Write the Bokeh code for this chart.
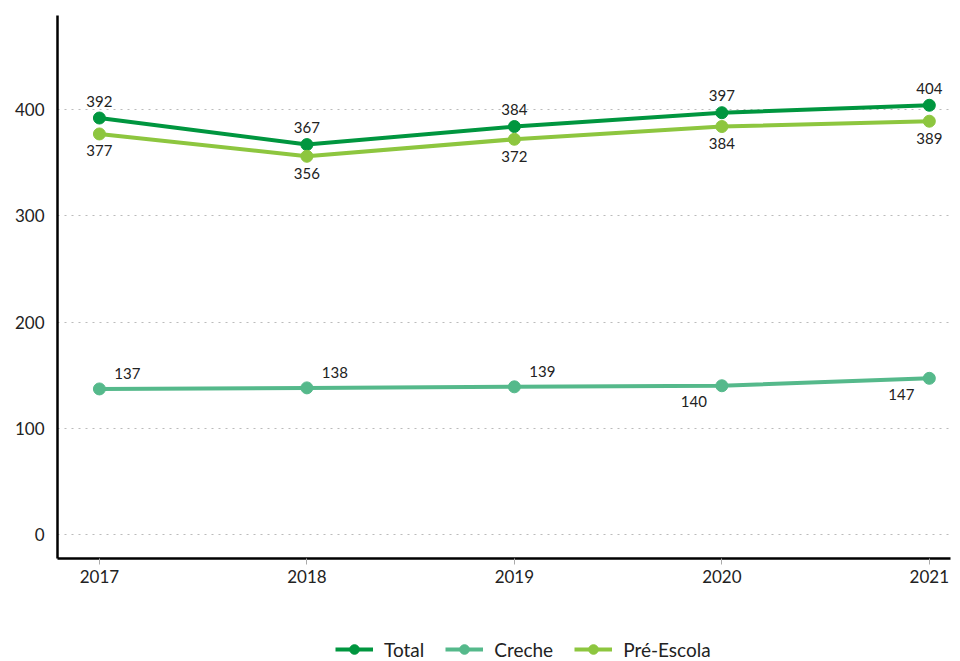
from bokeh.plotting import figure
from bokeh.layouts import column
from bokeh.models import ColumnDataSource, Legend, LegendItem, Range1d, FixedTicker, LabelSet
from bokeh.core.properties import value
from bokeh.embed import file_html
from bokeh.resources import INLINE

years = [2017, 2018, 2019, 2020, 2021]
total = [392, 367, 384, 397, 404]
creche = [137, 138, 139, 140, 147]
pre_escola = [377, 356, 372, 384, 389]
series_names = ["Total", "Creche", "Pré-Escola"]

c_total = "#00963F"
c_creche = "#55B98B"
c_pre = "#8DC63F"
FONT = "Lato"

p = figure(width=952, height=590, output_backend="svg", toolbar_location=None,
           x_range=Range1d(2016.798, 2021.102), y_range=Range1d(-22.6, 488.5),
           min_border_left=57, min_border_top=15, min_border_right=2, min_border_bottom=32)
p.outline_line_color = None
p.xgrid.visible = False
p.ygrid.grid_line_color = "#BBBBBB"
p.ygrid.grid_line_dash = "2 5"
p.ygrid.grid_line_width = 1

p.yaxis.ticker = FixedTicker(ticks=[0, 100, 200, 300, 400])
p.xaxis.ticker = FixedTicker(ticks=years)
for ax in (p.xaxis, p.yaxis):
    ax.axis_line_color = "black"
    ax.axis_line_width = 2.5
    ax.major_label_text_font = FONT
    ax.major_label_text_font_size = "17px"
    ax.major_label_text_color = "#222222"
    ax.minor_tick_line_color = None
p.yaxis.major_tick_line_color = None
p.yaxis.major_tick_in = 0
p.yaxis.major_tick_out = 0
p.xaxis.major_tick_line_color = "#AAAAAA"
p.xaxis.major_tick_in = 0
p.xaxis.major_tick_out = 6
p.yaxis.major_label_standoff = 13
p.xaxis.major_label_standoff = 5

colors = [c_total, c_creche, c_pre]
sources = []
for vals, col in zip([total, creche, pre_escola], colors):
    src = ColumnDataSource(dict(x=years, y=vals, t=[str(v) for v in vals]))
    p.line("x", "y", source=src, line_color=col, line_width=4)
    p.scatter("x", "y", source=src, fill_color=col, line_color=col, size=12)
    sources.append(src)

def labels(src, xo, yo):
    ls = LabelSet(x="x", y="y", text="t", source=src, x_offset=xo, y_offset=yo,
                  text_font=value(FONT), text_font_size="15px", text_color="#222222",
                  text_align="center", text_baseline="middle")
    p.add_layout(ls)

labels(sources[0], 0, 17)
labels(sources[2], 0, -17)
labels(ColumnDataSource(dict(x=years[:3], y=creche[:3], t=[str(v) for v in creche[:3]])), 28, 15)
labels(ColumnDataSource(dict(x=years[3:], y=creche[3:], t=[str(v) for v in creche[3:]])), -28, -16)

# legend strip below the chart
lg = figure(width=952, height=71, output_backend="svg", toolbar_location=None,
            x_range=Range1d(0, 1), y_range=Range1d(0, 1), x_axis_type=None, y_axis_type=None,
            min_border=0)
lg.outline_line_color = None
lg.grid.visible = False
items = []
for name, col in zip(series_names, colors):
    proxy = ColumnDataSource(dict(x=[float("nan")], y=[float("nan")]))
    r1 = lg.line("x", "y", source=proxy, line_color=col, line_width=4)
    r2 = lg.scatter("x", "y", source=proxy, fill_color=col, line_color=col, size=12)
    items.append(LegendItem(label=name, renderers=[r1, r2]))
legend = Legend(items=items, orientation="horizontal", location=(278, 0),
                label_text_font=FONT, label_text_font_size="19px", label_text_color="#222222",
                glyph_width=38, glyph_height=24, label_height=24, spacing=21,
                border_line_color=None, background_fill_alpha=0, margin=0, padding=0,
                label_standoff=11)
lg.add_layout(legend, "center")

layout = column(p, lg, spacing=0)
open("out.html", "w").write(file_html(layout, INLINE))
